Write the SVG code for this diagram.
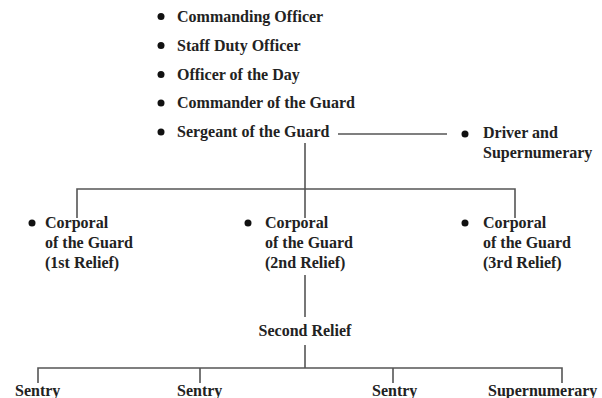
<svg xmlns="http://www.w3.org/2000/svg" width="602" height="398" viewBox="0 0 602 398">
<style>
.t{font-family:'Liberation Serif','Times New Roman',serif;font-size:16px;font-weight:bold;fill:#222}
.c{text-anchor:middle}
.ln{stroke:#555;stroke-width:1.6;fill:none}
.b{fill:#111}
</style>
<rect width="602" height="398" fill="#fff"/>
<g id="connectors">
<path class="ln" d="M338 134H447"/>
<path class="ln" d="M305 143V218"/>
<path class="ln" d="M77 218V189H515V218"/>
<path class="ln" d="M305 275V317"/>
<path class="ln" d="M305 345V368"/>
<path class="ln" d="M38 383V368H562V383"/>
<path class="ln" d="M200 368V383"/>
<path class="ln" d="M393 368V383"/>
</g>
<g id="nodes">
<g id="commanding-officer"><circle class="b" cx="161" cy="16.5" r="3.5"/><text class="t" x="177" y="21.5">Commanding Officer</text></g>
<g id="staff-duty-officer"><circle class="b" cx="161" cy="45.5" r="3.5"/><text class="t" x="177" y="50.5">Staff Duty Officer</text></g>
<g id="officer-of-the-day"><circle class="b" cx="161" cy="74.5" r="3.5"/><text class="t" x="177" y="79.5">Officer of the Day</text></g>
<g id="commander-of-the-guard"><circle class="b" cx="161" cy="103" r="3.5"/><text class="t" x="177" y="108">Commander of the Guard</text></g>
<g id="sergeant-of-the-guard"><circle class="b" cx="161" cy="132" r="3.5"/><text class="t" x="177" y="137">Sergeant of the Guard</text></g>
<g id="driver"><circle class="b" cx="465" cy="134" r="3.5"/><text class="t" x="483" y="138">Driver and</text><text class="t" x="483" y="158">Supernumerary</text></g>
<g id="corporal-1"><circle class="b" cx="32" cy="223" r="3.5"/><text class="t" x="45" y="228">Corporal</text><text class="t" x="45" y="248">of the Guard</text><text class="t" x="45" y="268">(1st Relief)</text></g>
<g id="corporal-2"><circle class="b" cx="248" cy="223" r="3.5"/><text class="t" x="265" y="228">Corporal</text><text class="t" x="265" y="248">of the Guard</text><text class="t" x="265" y="268">(2nd Relief)</text></g>
<g id="corporal-3"><circle class="b" cx="465" cy="223" r="3.5"/><text class="t" x="483" y="228">Corporal</text><text class="t" x="483" y="248">of the Guard</text><text class="t" x="483" y="268">(3rd Relief)</text></g>
<g id="second-relief"><text class="t c" x="305" y="336">Second Relief</text></g>
<g id="sentry-1"><text class="t" x="15" y="396">Sentry</text></g>
<g id="sentry-2"><text class="t" x="177" y="396">Sentry</text></g>
<g id="sentry-3"><text class="t" x="372" y="396">Sentry</text></g>
<g id="supernumerary"><text class="t" x="488" y="396">Supernumerary</text></g>
</g>
</svg>
